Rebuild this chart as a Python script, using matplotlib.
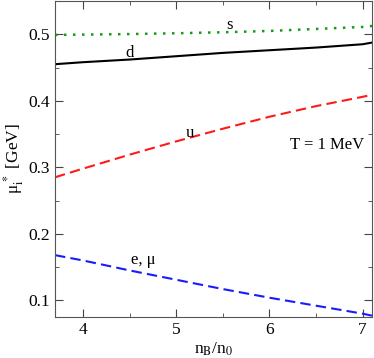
import matplotlib
matplotlib.use("Agg")
import matplotlib.pyplot as plt
from matplotlib.ticker import MultipleLocator

plt.rcParams['font.family'] = ['Liberation Serif', 'DejaVu Serif']
plt.rcParams['mathtext.fontset'] = 'stix'

# data
nb = [3.7, 4.0, 4.5, 5.0, 5.5, 6.0, 6.5, 7.0, 7.1]
mu_s = [0.499, 0.4995, 0.5003, 0.5015, 0.503, 0.505, 0.508, 0.511, 0.5125]
mu_d = [0.455, 0.458, 0.462, 0.467, 0.472, 0.476, 0.480, 0.485, 0.4875]
mu_u = [0.285, 0.298, 0.319, 0.339, 0.358, 0.376, 0.392, 0.406, 0.409]
mu_e = [0.168, 0.160, 0.145, 0.131, 0.117, 0.104, 0.092, 0.080, 0.077]

fig = plt.figure(figsize=(3.74, 3.58), dpi=100)
ax = fig.add_axes([55/374, 41/358, 317/374, 316/358])

ax.plot(nb, mu_s, color='#1a9a1a', linestyle=(0, (1, 2.6)), lw=1.8)
ax.plot(nb, mu_d, color='black', lw=1.5)
ax.plot(nb, mu_u, color='#ff1a1a', linestyle=(0, (5, 2.5)), lw=1.5)
ax.plot(nb, mu_e, color='#1a1aff', linestyle=(0, (5, 2.5)), lw=1.5)

lbl = dict(fontsize=12, ha='center', va='center')
ax.text(5.57, 0.5145, 's', **lbl)
ax.text(4.5, 0.4725, 'd', **lbl)
ax.text(5.15, 0.351, 'u', **lbl)
ax.text(4.65, 0.160, 'e, μ', **lbl)
ax.text(6.62, 0.333, 'T = 1 MeV', **lbl)

ax.set_xlim(3.7, 7.1)
ax.set_ylim(0.075, 0.55)
ax.xaxis.set_major_locator(MultipleLocator(1))
ax.xaxis.set_minor_locator(MultipleLocator(0.5))
ax.yaxis.set_major_locator(MultipleLocator(0.1))
ax.yaxis.set_minor_locator(MultipleLocator(0.05))
ax.tick_params(which='both', direction='in', top=True, right=True, labelsize=12.5, colors='#444444', labelcolor='black')
ax.tick_params(which='major', length=6)
ax.tick_params(which='minor', length=3)
for s in ax.spines.values():
    s.set_color('#555555')

ax.set_xlabel(r'n$_\mathrm{B}$/n$_\mathrm{0}$', fontsize=12.5, labelpad=2)
ax.set_ylabel(r'μ$_\mathrm{i}^{\,*}$ [GeV]', fontsize=12.5, labelpad=2)

fig.savefig('out.png', dpi=100)
